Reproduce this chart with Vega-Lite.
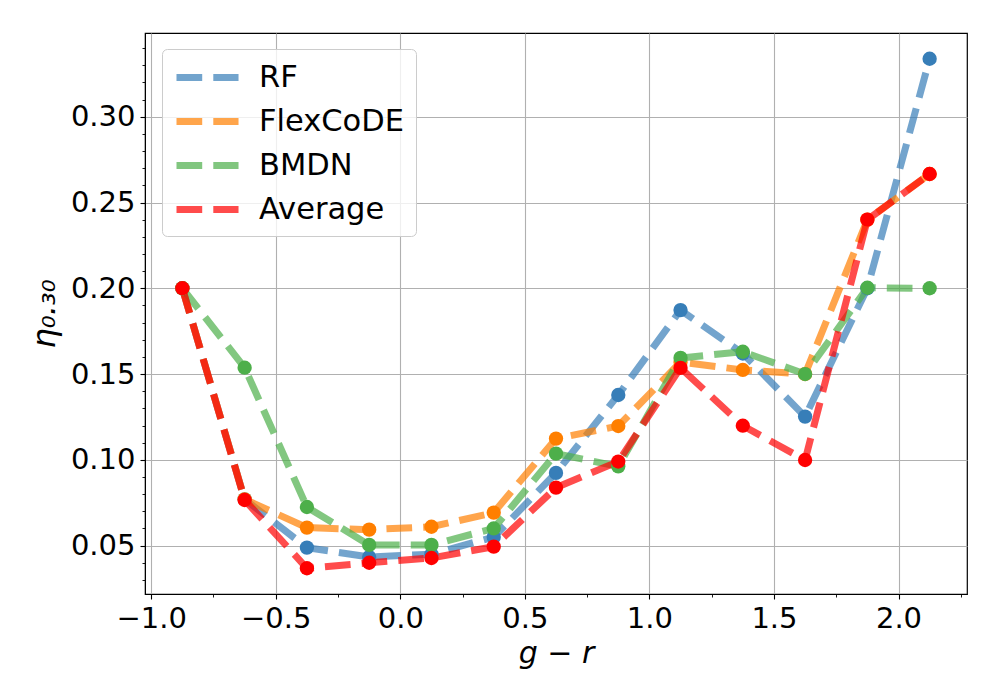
{
  "$schema": "https://vega.github.io/schema/vega-lite/v6.json",
  "width": 822,
  "height": 561,
  "autosize": "none",
  "padding": {"left": 145, "top": 33, "right": 33, "bottom": 106},
  "background": "white",
  "config": {
    "font": "DejaVu Sans",
    "view": {"stroke": "black", "strokeWidth": 1.2},
    "axis": {
      "labelFont": "DejaVu Sans",
      "titleFont": "DejaVu Sans",
      "labelColor": "black",
      "titleColor": "black",
      "tickColor": "black",
      "domainColor": "black",
      "labelFontSize": 29,
      "titleFontSize": 30,
      "titleFontWeight": "normal"
    }
  },
  "data": {
    "values": [
      {"model": "RF", "x": -0.875, "y": 0.200},
      {"model": "RF", "x": -0.625, "y": 0.077},
      {"model": "RF", "x": -0.375, "y": 0.0488},
      {"model": "RF", "x": -0.125, "y": 0.0434},
      {"model": "RF", "x": 0.125, "y": 0.045},
      {"model": "RF", "x": 0.375, "y": 0.055},
      {"model": "RF", "x": 0.625, "y": 0.0924},
      {"model": "RF", "x": 0.875, "y": 0.1378},
      {"model": "RF", "x": 1.125, "y": 0.1873},
      {"model": "RF", "x": 1.375, "y": 0.162},
      {"model": "RF", "x": 1.625, "y": 0.1252},
      {"model": "RF", "x": 1.875, "y": 0.200},
      {"model": "RF", "x": 2.125, "y": 0.3338},
      {"model": "FlexCoDE", "x": -0.875, "y": 0.200},
      {"model": "FlexCoDE", "x": -0.625, "y": 0.077},
      {"model": "FlexCoDE", "x": -0.375, "y": 0.0605},
      {"model": "FlexCoDE", "x": -0.125, "y": 0.0593},
      {"model": "FlexCoDE", "x": 0.125, "y": 0.061},
      {"model": "FlexCoDE", "x": 0.375, "y": 0.0692},
      {"model": "FlexCoDE", "x": 0.625, "y": 0.1124},
      {"model": "FlexCoDE", "x": 0.875, "y": 0.1197},
      {"model": "FlexCoDE", "x": 1.125, "y": 0.157},
      {"model": "FlexCoDE", "x": 1.375, "y": 0.1524},
      {"model": "FlexCoDE", "x": 1.625, "y": 0.150},
      {"model": "FlexCoDE", "x": 1.875, "y": 0.240},
      {"model": "FlexCoDE", "x": 2.125, "y": 0.2666},
      {"model": "BMDN", "x": -0.875, "y": 0.200},
      {"model": "BMDN", "x": -0.625, "y": 0.1537},
      {"model": "BMDN", "x": -0.375, "y": 0.0725},
      {"model": "BMDN", "x": -0.125, "y": 0.0504},
      {"model": "BMDN", "x": 0.125, "y": 0.0504},
      {"model": "BMDN", "x": 0.375, "y": 0.060},
      {"model": "BMDN", "x": 0.625, "y": 0.1036},
      {"model": "BMDN", "x": 0.875, "y": 0.0962},
      {"model": "BMDN", "x": 1.125, "y": 0.1594},
      {"model": "BMDN", "x": 1.375, "y": 0.163},
      {"model": "BMDN", "x": 1.625, "y": 0.150},
      {"model": "BMDN", "x": 1.875, "y": 0.2003},
      {"model": "BMDN", "x": 2.125, "y": 0.200},
      {"model": "Average", "x": -0.875, "y": 0.200},
      {"model": "Average", "x": -0.625, "y": 0.0766},
      {"model": "Average", "x": -0.375, "y": 0.0368},
      {"model": "Average", "x": -0.125, "y": 0.040},
      {"model": "Average", "x": 0.125, "y": 0.0428},
      {"model": "Average", "x": 0.375, "y": 0.0494},
      {"model": "Average", "x": 0.625, "y": 0.0838},
      {"model": "Average", "x": 0.875, "y": 0.099},
      {"model": "Average", "x": 1.125, "y": 0.1536},
      {"model": "Average", "x": 1.375, "y": 0.1199},
      {"model": "Average", "x": 1.625, "y": 0.0999},
      {"model": "Average", "x": 1.875, "y": 0.240},
      {"model": "Average", "x": 2.125, "y": 0.2666}
    ]
  },
  "resolve": {"axis": {"x": "independent", "y": "independent"}},
  "layer": [
    {
      "mark": {"type": "line", "strokeWidth": 7, "strokeDash": [25.7, 11.1], "opacity": 0.7, "clip": true},
      "encoding": {
        "x": {
          "field": "x", "type": "quantitative",
          "scale": {"domain": [-1.025, 2.275], "nice": false, "zero": false},
          "axis": {
            "orient": "bottom",
            "values": [-1.0, -0.5, 0.0, 0.5, 1.0, 1.5, 2.0],
            "format": ".1f",
            "title": "g − r",
            "titleFontStyle": "italic",
            "titlePadding": 5,
            "grid": true, "gridColor": "#b0b0b0", "gridWidth": 1.1, "gridOpacity": 1,
            "tickSize": 5, "tickWidth": 1.1, "labelPadding": 5
          }
        },
        "y": {
          "field": "y", "type": "quantitative",
          "scale": {"domain": [0.0218, 0.3488], "nice": false, "zero": false},
          "axis": {
            "orient": "left",
            "values": [0.05, 0.10, 0.15, 0.20, 0.25, 0.30],
            "format": ".2f",
            "title": "η₀.₃₀",
            "titleFontStyle": "italic",
            "titleFontSize": 32,
            "titlePadding": 9,
            "grid": true, "gridColor": "#b0b0b0", "gridWidth": 1.1, "gridOpacity": 1,
            "tickSize": 5, "tickWidth": 1.1, "labelPadding": 5
          }
        },
        "color": {
          "field": "model", "type": "nominal", "sort": null,
          "scale": {"domain": ["RF", "FlexCoDE", "BMDN", "Average"], "range": ["#377eb8", "#ff7f00", "#4daf4a", "#ff0000"]},
          "legend": {
            "title": null,
            "orient": "none",
            "legendX": 17,
            "legendY": 16,
            "symbolType": "M-1,0H3.43",
            "symbolSize": 784,
            "symbolStrokeWidth": 7,
            "symbolDash": [25.7, 11.1],
            "symbolOpacity": 0.7,
            "labelFont": "DejaVu Sans",
            "labelFontSize": 30.5,
            "labelColor": "black",
            "labelOffset": 51,
            "rowPadding": 11,
            "padding": 11,
            "fillColor": "rgba(255,255,255,0.8)",
            "strokeColor": "#cccccc",
            "cornerRadius": 5
          }
        }
      }
    },
    {
      "mark": {"type": "circle", "size": 205, "opacity": 1},
      "encoding": {
        "x": {
          "field": "x", "type": "quantitative",
          "axis": {
            "orient": "bottom",
            "values": [-1.0, -0.75, -0.5, -0.25, 0.0, 0.25, 0.5, 0.75, 1.0, 1.25, 1.5, 1.75, 2.0, 2.25],
            "labels": false, "title": null, "grid": false, "domain": false,
            "tickSize": 3, "tickWidth": 0.9
          }
        },
        "y": {
          "field": "y", "type": "quantitative",
          "axis": {
            "orient": "left",
            "values": [0.03, 0.04, 0.05, 0.06, 0.07, 0.08, 0.09, 0.10, 0.11, 0.12, 0.13, 0.14, 0.15, 0.16, 0.17, 0.18, 0.19, 0.20, 0.21, 0.22, 0.23, 0.24, 0.25, 0.26, 0.27, 0.28, 0.29, 0.30, 0.31, 0.32, 0.33, 0.34],
            "labels": false, "title": null, "grid": false, "domain": false,
            "tickSize": 3, "tickWidth": 0.9
          }
        },
        "color": {"field": "model", "type": "nominal", "sort": null, "legend": null}
      }
    }
  ]
}
